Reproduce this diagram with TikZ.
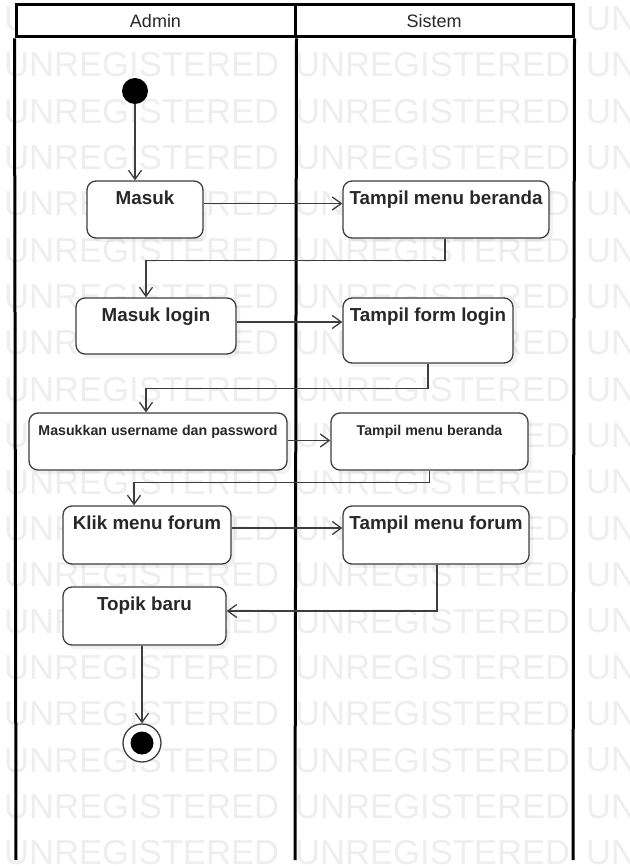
\documentclass[tikz,border=0pt]{standalone}
\usepackage{fontspec}
\setmainfont{Liberation Sans}
\usetikzlibrary{arrows.meta,calc,shadows}
\definecolor{wmark}{RGB}{238,238,238}
\definecolor{ink}{RGB}{40,40,40}
\definecolor{edge}{RGB}{62,62,62}
\begin{document}
\begin{tikzpicture}[x=1pt,y=-1pt,
  wm/.style={font=\fontsize{34.6}{36}\selectfont, text=wmark, anchor=west, inner sep=0pt},
  lane/.style={line width=3pt, draw=black},
  act/.style={draw=edge, line width=1.3pt, rounded corners=9pt, fill=white, inner sep=0pt,
    drop shadow={shadow xshift=4pt, shadow yshift=-4pt, opacity=0.10}},
  bigtxt/.style={font=\bfseries\fontsize{18.8}{22}\selectfont, text=ink, anchor=base, inner sep=0pt},
  smalltxt/.style={font=\bfseries\fontsize{14.2}{17}\selectfont, text=ink, anchor=base, inner sep=0pt},
  headtxt/.style={font=\fontsize{18}{21}\selectfont, text=ink, inner sep=0pt},
  flow/.style={draw=edge, line width=1.3pt, -{Straight Barb[length=9pt,width=13pt,line width=1.3pt]}},
  startnode/.style={circle, fill=black, minimum size=26pt, inner sep=0pt},
  endring/.style={circle, draw=edge, line width=1.3pt, fill=white, minimum size=38pt, inner sep=0pt},
  enddot/.style={circle, fill=black, minimum size=23pt, inner sep=0pt}
]
\useasboundingbox (0,0) rectangle (629,866);
\fill[white] (0,0) rectangle (629,866);

% background watermark rows (the right-hand column only shows its first letters)
\foreach \r in {0,...,18} {
  \foreach \c in {0,1}
    \node[wm] (wm-\r-\c) at ({4+291*\c},{18.6+46.35*\r}) {UNREGISTERED};
  \node[wm] (wm-\r-2) at (586,{18.6+46.35*\r}) {UN};
}

% swimlane header and lanes
\node[draw=black, line width=3pt, fill=white, minimum width=279pt, minimum height=32pt, inner sep=0pt] (hdA) at (155.5,21) {};
\node[draw=black, line width=3pt, fill=white, minimum width=278pt, minimum height=32pt, inner sep=0pt] (hdS) at (434,21) {};
\node[headtxt] (admin) at (hdA.center) {Admin};
\node[headtxt] (sistem) at (hdS.center) {Sistem};
\draw[lane] (hdA.south west) -- (16,860);
\draw[lane] (hdA.south east) -- (295,860);
\draw[lane] (hdS.south east) -- (573,860);

% start and end
\node[startnode] (init) at (135,91) {};
\node[endring] (fin) at (142,743) {};
\node[enddot] (findot) at (fin.center) {};

% actions
\node[act, minimum width=116pt, minimum height=57pt] (masuk) at (145,209.5) {};
\node[bigtxt] (masukT) at ($(masuk.north)+(0,24.5)$) {Masuk};
\node[act, minimum width=206pt, minimum height=57pt] (beranda1) at (446,209.5) {};
\node[bigtxt] (beranda1T) at ($(beranda1.north)+(0,24.5)$) {Tampil menu beranda};

\node[act, minimum width=160pt, minimum height=56pt] (login) at (156,326) {};
\node[bigtxt] (loginT) at ($(login.north)+(0,24)$) {Masuk login};
\node[act, minimum width=170pt, minimum height=65pt] (form) at (428,330.5) {};
\node[bigtxt] (formT) at ($(form.north)+(0,24)$) {Tampil form login};

\node[act, minimum width=258pt, minimum height=57pt] (userpass) at (158,441.5) {};
\node[smalltxt] (userpassT) at ($(userpass.north)+(0,23)$) {Masukkan username dan password};
\node[act, minimum width=197pt, minimum height=57pt] (beranda2) at (429.5,441.5) {};
\node[smalltxt] (beranda2T) at ($(beranda2.north)+(0,23)$) {Tampil menu beranda};

\node[act, minimum width=168pt, minimum height=58pt] (klik) at (147,535) {};
\node[bigtxt] (klikT) at ($(klik.north)+(0,24.5)$) {Klik menu forum};
\node[act, minimum width=186pt, minimum height=58pt] (forum) at (436,535) {};
\node[bigtxt] (forumT) at ($(forum.north)+(0,24.5)$) {Tampil menu forum};

\node[act, minimum width=163pt, minimum height=58pt] (topik) at (144.5,616) {};
\node[bigtxt] (topikT) at ($(topik.north)+(0,24.5)$) {Topik baru};

% control flow
\draw[flow] (init) -- (init |- masuk.north);
\draw[flow] ($(masuk.east)+(0,-6)$) -- ($(masuk.east -| beranda1.west)+(0,-6)$);
\draw[flow] ([xshift=-1pt]beranda1.south) -- ++(0,22) -| ([xshift=-10pt]login.north);
\draw[flow] ($(login.east)+(0,-4)$) -- ($(login.east -| form.west)+(0,-4)$);
\draw[flow] (form.south) -- ++(0,25) -| ([xshift=-12pt]userpass.north);
\draw[flow] ($(userpass.east)+(0,-1)$) -- ($(userpass.east -| beranda2.west)+(0,-1)$);
\draw[flow] (beranda2.south) -- ++(0,12) -| ([xshift=-13pt]klik.north);
\draw[flow] ($(klik.east)+(0,-7)$) -- ($(klik.east -| forum.west)+(0,-7)$);
\draw[flow] ([xshift=1pt]forum.south) |- ($(topik.east)+(0,-5)$);
\draw[flow] (topik.south -| fin.north) -- (fin.north);
\end{tikzpicture}
\end{document}
